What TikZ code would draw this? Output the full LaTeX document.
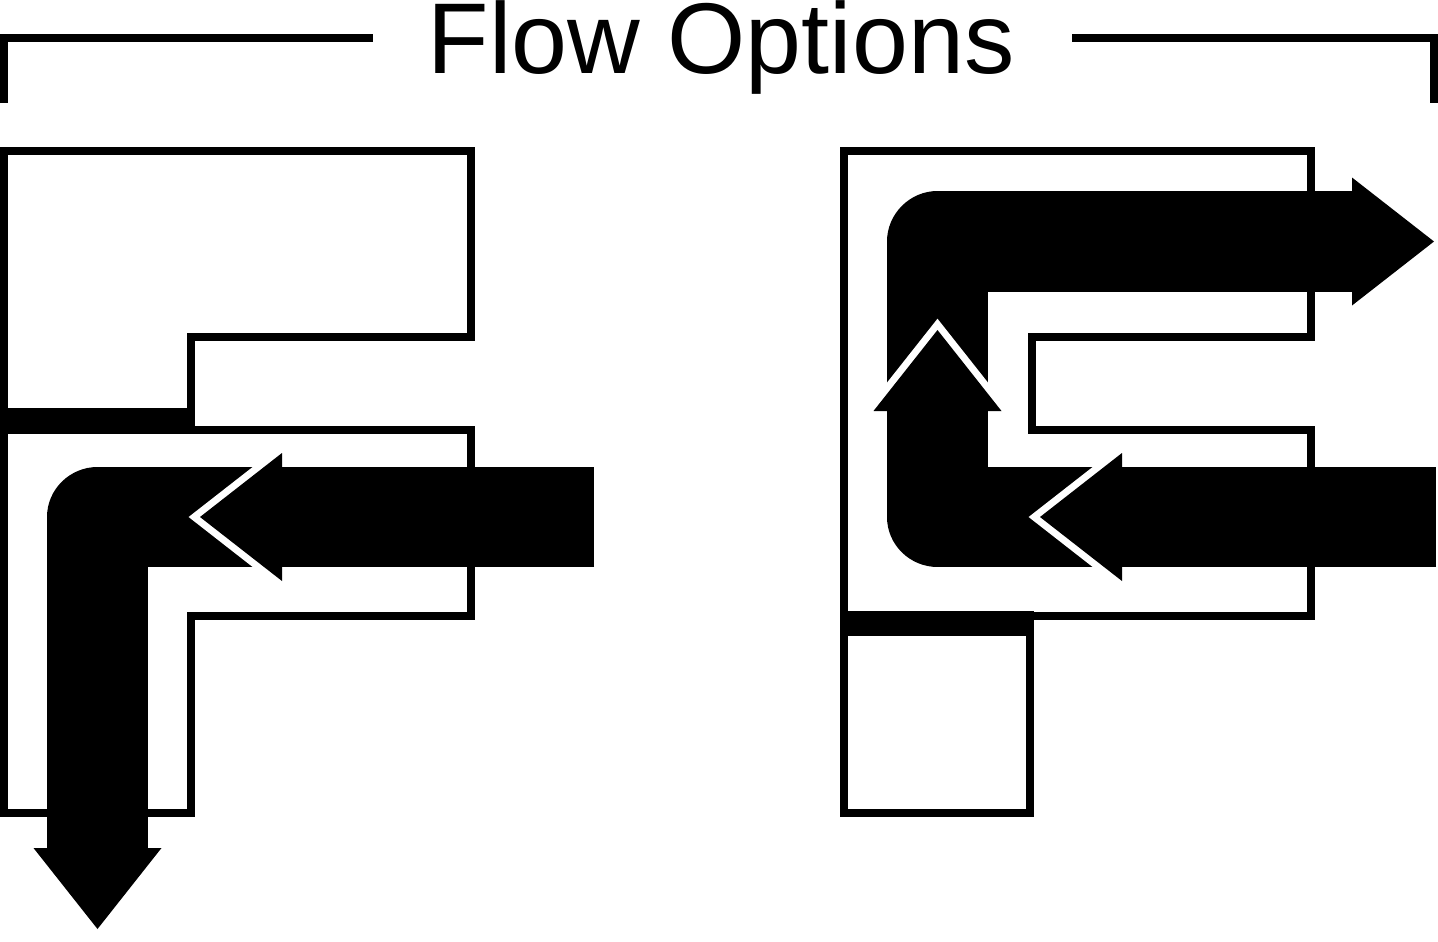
\documentclass[tikz,border=0pt]{standalone}
\usepackage{fontspec}
\setmainfont{Liberation Sans}
\begin{document}
\begin{tikzpicture}[x=0.01cm, y=-0.01cm,
  wall/.style={line width=0.08cm},
  flow/.style={line width=1cm, line join=round},
  gap/.style={draw=white, line width=0.14cm},
  headline/.style={anchor=base, inner sep=0pt, font=\fontsize{28.6}{30}\selectfont}]

\useasboundingbox (0,0) rectangle (1438,942);

% title and bracket
\node (title) [headline] at (721,73) {Flow Options};
\draw [wall] (4,103) -- (4,37.5) -- (373,37.5);
\draw [wall] (1072,37.5) -- (1433.5,37.5) -- (1433.5,103);

% left housing
\draw [wall] (4,151) -- (471,151) -- (471,337) -- (191,337) -- (191,412) -- (4,412) -- cycle;
\fill (0,408) rectangle (195,433);
\draw [wall] (4,429.5) -- (471,429.5) -- (471,616) -- (191,616) -- (191,812.5) -- (4,812.5) -- cycle;

% left flow: in from the side, out at the bottom
\draw [flow] (594,517) -- (97.5,517) -- (97.5,848);
\fill (33.5,848) -- (161.5,848) -- (97.5,929) -- cycle;
\draw [gap] (282,453) -- (200,517) -- (282,581);
\fill (282,453) -- (200,517) -- (282,581) -- cycle;

% right housing
\draw [wall] (844,151) -- (1311,151) -- (1311,337) -- (1032,337) -- (1032,429.5) -- (1311,429.5) -- (1311,616) -- (844,616) -- cycle;
\fill (840,611) rectangle (1034,636);
\draw [wall] (844,632) rectangle (1030,812.5);

% right flow: in from the side, back out at the top
\draw [flow] (1436,517) -- (937.5,517) -- (937.5,411);
\draw [flow] (937.5,400) -- (937.5,241.5) -- (1352,241.5);
\fill (1352,177.5) -- (1352,305.5) -- (1434,241.5) -- cycle;
\draw [gap] (873.5,411) -- (937.5,330) -- (1001.5,411);
\fill (873.5,411) -- (937.5,330) -- (1001.5,411) -- cycle;
\draw [gap] (1122,453) -- (1040,517) -- (1122,581);
\fill (1122,453) -- (1040,517) -- (1122,581) -- cycle;
\end{tikzpicture}
\end{document}
